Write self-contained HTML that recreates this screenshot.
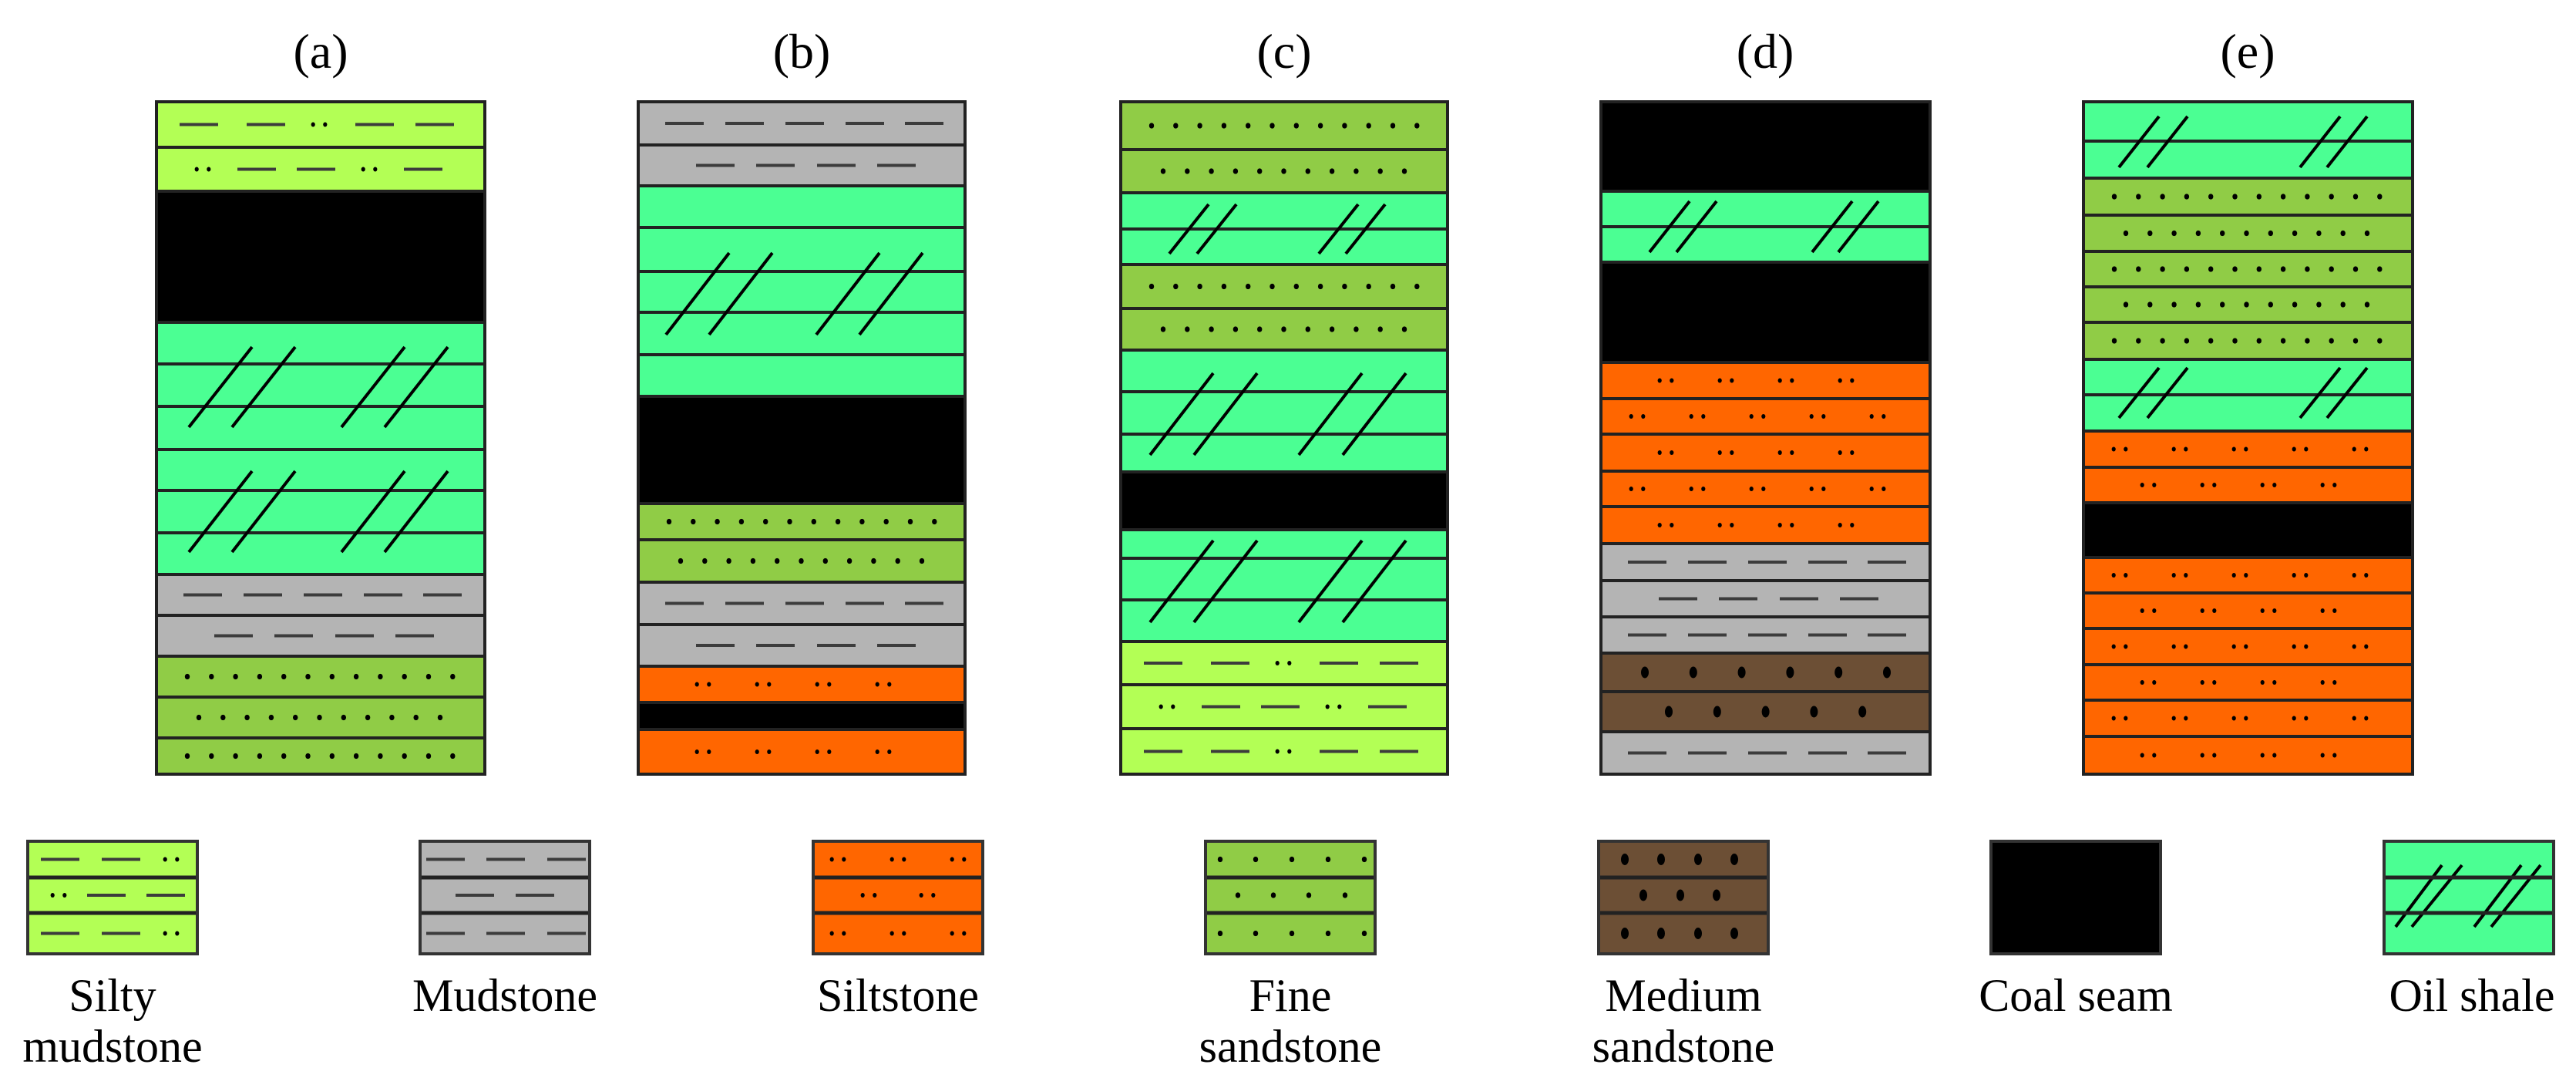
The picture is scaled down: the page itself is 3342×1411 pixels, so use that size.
<!DOCTYPE html>
<html><head><meta charset="utf-8">
<style>
html,body{margin:0;padding:0;background:#fff;}
body{width:3342px;height:1411px;overflow:hidden;}
svg{display:block;}
text{font-family:"Liberation Serif",serif;fill:#000;}
</style></head>
<body>
<svg id="s" width="3342" height="1411" viewBox="0 0 3342 1411" xmlns="http://www.w3.org/2000/svg">
<g id="g"></g>
<g text-anchor="middle" font-size="64">
<text x="416" y="88">(a)</text>
<text x="1040" y="88">(b)</text>
<text x="1666" y="88">(c)</text>
<text x="2290" y="88">(d)</text>
<text x="2916" y="88">(e)</text>
</g>
<g text-anchor="middle" font-size="60">
<text x="146" y="1311">Silty</text>
<text x="146" y="1377">mudstone</text>
<text x="655" y="1311">Mudstone</text>
<text x="1165" y="1311">Siltstone</text>
<text x="1674" y="1311">Fine</text>
<text x="1674" y="1377">sandstone</text>
<text x="2184" y="1311">Medium</text>
<text x="2184" y="1377">sandstone</text>
<text x="2693" y="1311">Coal seam</text>
<text x="3207" y="1311">Oil shale</text>
</g>
</svg>
<script>
(function(){
var NS="http://www.w3.org/2000/svg",G=document.getElementById("g");
function el(t,a){var e=document.createElementNS(NS,t);for(var k in a)e.setAttribute(k,a[k]);G.appendChild(e);return e;}
var C={silty:"#b3ff55",mud:"#b4b4b4",silt:"#ff6600",fine:"#90cc46",med:"#6c4f35",oil:"#4bff93",coal:"#000"};
function dash(x,y){el("line",{x1:x-25,y1:y,x2:x+25,y2:y,stroke:"#3c3c3c","stroke-width":4});}
function dot(x,y,r){el("ellipse",{cx:x,cy:y,rx:r,ry:r*1.15,fill:"#000"});}
function pair(x,y){dot(x-7.8,y,2.6);dot(x+7.8,y,2.6);}
var P={
 silty:{A:[["d",55],["d",142],["p",211],["d",283],["d",361]],B:[["p",60],["d",130],["d",207],["p",276],["d",346]]},
 mud:{A:[60,138,216,294,371].map(function(v){return["d",v]}),B:[100,178,257,335].map(function(v){return["d",v]})},
 fine:{A:[],B:[]},
 silt:{A:[47,125,203,281,359].map(function(v){return["p",v]}),B:[84,162,240,318].map(function(v){return["p",v]})},
 med:{A:[],B:[]}
};
for(var i=0;i<12;i++)P.fine.A.push(["f",40+i*31.3]);
for(i=0;i<11;i++)P.fine.B.push(["f",55+i*31.3]);
for(i=0;i<6;i++)P.med.A.push(["m",57+i*62.8]);
for(i=0;i<5;i++)P.med.B.push(["m",88+i*62.8]);
function drawPat(list,x0,y){list.forEach(function(it){var x=x0+it[1];
 if(it[0]=="d")dash(x,y);else if(it[0]=="p")pair(x,y);else if(it[0]=="f")dot(x,y,3.2);else if(it[0]=="m")el("ellipse",{cx:x,cy:y,rx:5,ry:7.5,fill:"#000"});});}
// layer: [type, top, bottom, pat]  ; oil: [ "oil", top, bottom, [lines], [[ytop,ybot,[x lowerleft...],dx]] ]
function column(x0,w,top,bot,layers){
 layers.forEach(function(L){
  var t=L[0];
  el("rect",{x:x0,y:L[1],width:w,height:L[2]-L[1],fill:C[t]});
  if(t=="oil"){
   (L[3]||[]).forEach(function(y){el("line",{x1:x0,y1:y,x2:x0+w,y2:y,stroke:"#222","stroke-width":4});});
   (L[4]||[]).forEach(function(s){s[2].forEach(function(xx){el("line",{x1:xx,y1:s[1],x2:xx+s[3],y2:s[0],stroke:"#000","stroke-width":4});});});
  } else if(t!="coal"){
   drawPat(P[t][L[3]],x0,(L[1]+L[2])/2);
  }
 });
 // separators
 for(var j=1;j<layers.length;j++){var y=layers[j][1];el("line",{x1:x0,y1:y,x2:x0+w,y2:y,stroke:"#222","stroke-width":4});}
 el("rect",{x:x0,y:top,width:w,height:bot-top,fill:"none",stroke:"#222","stroke-width":4});
}
// (a)
var ax=203;
column(ax,426,132,1004,[
 ["silty",132,191,"A"],["silty",191,248,"B"],["coal",248,418],
 ["oil",418,745,[472,527,583,636,691],[[450,554,[245,301,443,499],82],[611,716,[245,301,443,499],82]]],
 ["mud",745,798,"A"],["mud",798,851,"B"],
 ["fine",851,904,"A"],["fine",904,957,"B"],["fine",957,1004,"A"]]);
// (b)
column(828,424,132,1004,[
 ["mud",132,188,"A"],["mud",188,241,"B"],
 ["oil",241,514,[295,352,405,460],[[328,434,[864,920,1059,1115],82]]],
 ["coal",514,653],["fine",653,700,"A"],["fine",700,755,"B"],
 ["mud",755,810,"A"],["mud",810,864,"B"],
 ["silt",864,911,"B"],["coal",911,946],["silt",946,1004,"B"]]);
// (c)
column(1454,424,132,1004,[
 ["fine",132,194,"A"],["fine",194,250,"B"],
 ["oil",250,343,[297],[[265,329,[1517,1553,1711,1746],51]]],
 ["fine",343,400,"A"],["fine",400,454,"B"],
 ["oil",454,612,[508,563],[[484,590,[1492,1549,1685,1742],82]]],
 ["coal",612,687],
 ["oil",687,832,[724,778],[[701,807,[1492,1549,1685,1742],82]]],
 ["silty",832,888,"A"],["silty",888,945,"B"],["silty",945,1004,"A"]]);
// (d)
column(2077,427,132,1004,[
 ["coal",132,248],
 ["oil",248,340,[294],[[261,327,[2140,2175,2351,2385],52]]],
 ["coal",340,470],
 ["silt",470,517,"B"],["silt",517,563,"A"],["silt",563,611,"B"],["silt",611,657,"A"],["silt",657,705,"B"],
 ["mud",705,753,"A"],["mud",753,800,"B"],["mud",800,847,"A"],
 ["med",847,897,"A"],["med",897,949,"B"],["mud",949,1004,"A"]]);
// (e)
column(2703,427,132,1004,[
 ["oil",132,231,[183],[[151,217,[2749,2786,2984,3019],52]]],
 ["fine",231,279,"A"],["fine",279,326,"B"],["fine",326,372,"A"],["fine",372,418,"B"],["fine",418,466,"A"],
 ["oil",466,559,[512],[[477,542,[2749,2786,2984,3019],52]]],
 ["silt",559,606,"A"],["silt",606,652,"B"],["coal",652,723],
 ["silt",723,769,"A"],["silt",769,815,"B"],["silt",815,862,"A"],["silt",862,908,"B"],["silt",908,955,"A"],["silt",955,1004,"B"]]);
// legend
function legend(x0,type,rows){
 var w=220,t=1091,b=1237,ys=[1091,1138,1184,1237];
 el("rect",{x:x0,y:t,width:w,height:b-t,fill:C[type]});
 if(type=="oil"){
  [[3108,3168],[3129,3194],[3210,3271],[3232,3296]].forEach(function(s){el("line",{x1:s[0],y1:1202,x2:s[1],y2:1122,stroke:"#000","stroke-width":4});});
 }
 if(rows){for(var r=0;r<3;r++)drawPat(rows[r],x0,(ys[r]+ys[r+1])/2);}
 if(type!="coal"){[1138,1184].forEach(function(y){el("line",{x1:x0,y1:y,x2:x0+w,y2:y,stroke:"#222","stroke-width":5});});}
 el("rect",{x:x0,y:t,width:w,height:b-t,fill:"none",stroke:"#333","stroke-width":4});
}
var sA=[["d",42],["d",121],["p",186]],sB=[["p",40],["d",102],["d",179]];
legend(36,"silty",[sA,sB,sA]);
var mA=[["d",33],["d",111],["d",190]],mB=[["d",71],["d",149]];
legend(545,"mud",[mA,mB,mA]);
var tA=[["p",32],["p",110],["p",188]],tB=[["p",72],["p",148]];
legend(1055,"silt",[tA,tB,tA]);
var fA=[["f",19],["f",65],["f",112],["f",159],["f",206]],fB=[["f",42],["f",88],["f",134],["f",181]];
legend(1564,"fine",[fA,fB,fA]);
var dA=[["m",34],["m",81],["m",129],["m",176]],dB=[["m",58],["m",106],["m",153]];
legend(2074,"med",[dA,dB,dA]);
legend(2583,"coal",null);
legend(3093,"oil",null);
})();
</script>
</body></html>
